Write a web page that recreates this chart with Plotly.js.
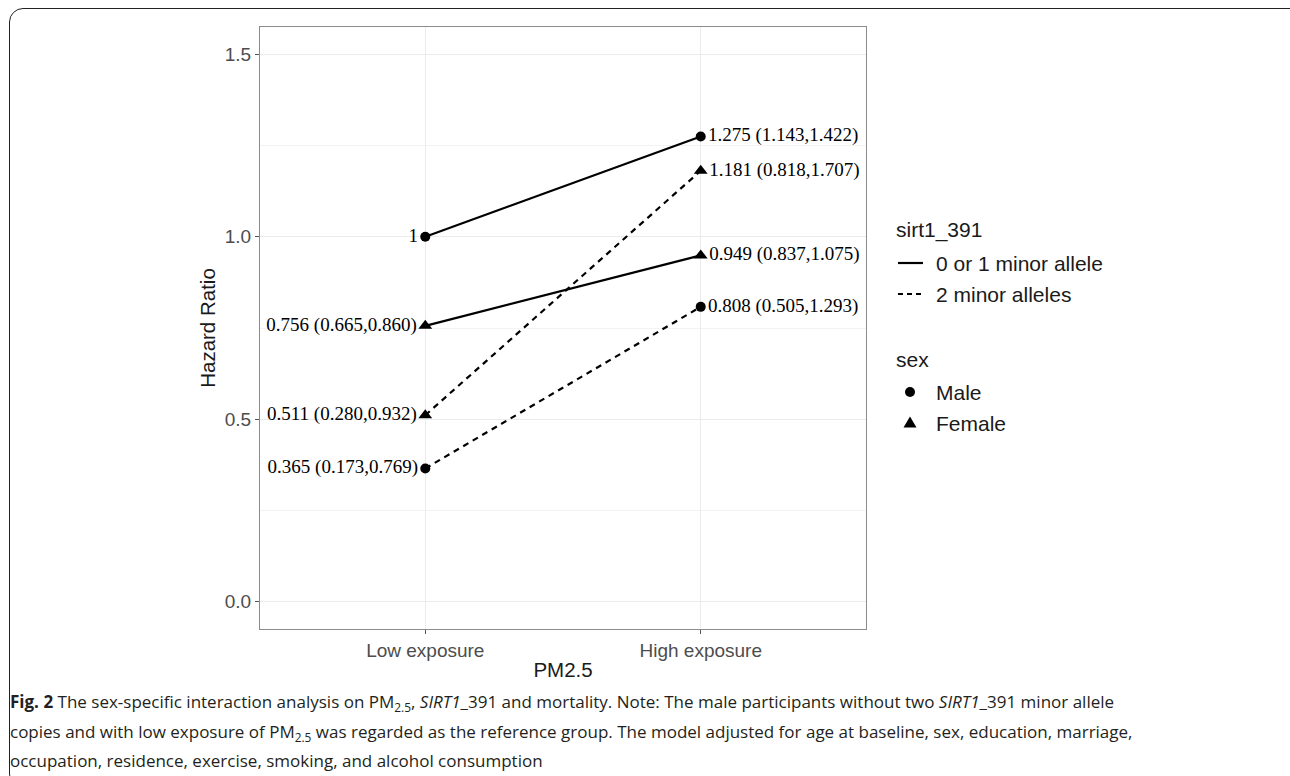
<!DOCTYPE html>
<html><head><meta charset="utf-8">
<script src="https://cdn.plot.ly/plotly-3.0.1.min.js"></script>
<style>
html,body{margin:0;padding:0;background:#fff;overflow:hidden;width:1290px;height:776px}
#frame{position:absolute;left:9px;top:8px;width:1300px;height:780px;border:1.8px solid #222;border-radius:14px;pointer-events:none;box-sizing:border-box}
</style></head><body>
<div id="chart" style="width:1290px;height:776px"></div>
<div id="frame"></div>
<script>
// ---- data ----
const exposure = ['Low exposure', 'High exposure'];
const yTicks = [0, 0.5, 1.0, 1.5];
const seriesNames = ['0 or 1 minor allele, Male', '0 or 1 minor allele, Female', '2 minor alleles, Male', '2 minor alleles, Female'];
const hrMale01   = [1, 1.275];
const loMale01   = [null, 1.143];
const hiMale01   = [null, 1.422];
const hrFemale01 = [0.756, 0.949];
const loFemale01 = [0.665, 0.837];
const hiFemale01 = [0.860, 1.075];
const hrMale2    = [0.365, 0.808];
const loMale2    = [0.173, 0.505];
const hiMale2    = [0.769, 1.293];
const hrFemale2  = [0.511, 1.181];
const loFemale2  = [0.280, 0.818];
const hiFemale2  = [0.932, 1.707];
const alleleLegend = ['0 or 1 minor allele', '2 minor alleles'];
const sexLegend = ['Male', 'Female'];

function labels(hr, lo, hi) {
  return hr.map((v, i) => lo[i] == null ? String(v) :
    v.toFixed(3) + ' (' + lo[i].toFixed(3) + ',' + hi[i].toFixed(3) + ')');
}

const DASH = '6px,5px';
const textFont = {family: 'Liberation Serif, Times New Roman, serif', size: 19, color: '#000'};
function tr(name, hr, lo, hi, dash, symbol, size) {
  return {
    name: name, x: exposure, y: hr, type: 'scatter', mode: 'lines+markers+text',
    text: labels(hr, lo, hi), textposition: ['middle left', 'middle right'],
    textfont: textFont, cliponaxis: false, showlegend: false, hoverinfo: 'x+y+name',
    line: {color: '#000', width: 2.2, dash: dash},
    marker: {symbol: symbol, size: size, color: '#000'}
  };
}
const traces = [
  tr(seriesNames[0], hrMale01, loMale01, hiMale01, 'solid', 'circle', 10),
  tr(seriesNames[1], hrFemale01, loFemale01, hiFemale01, 'solid', 'triangle-up', 12),
  tr(seriesNames[2], hrMale2, loMale2, hiMale2, DASH, 'circle', 10),
  tr(seriesNames[3], hrFemale2, loFemale2, hiFemale2, DASH, 'triangle-up', 12)
];

// pixel -> paper helpers for the legend and caption
const L = 260, T = 27, W = 606, H = 602;
const px = x => (x - L) / W;
const py = y => (T + H - y) / H;

const legFont = {family: 'Liberation Sans, Arial, sans-serif', size: 21, color: '#1a1a1a'};
const capFont = {family: 'Open Sans, Noto Sans, sans-serif', size: 17, color: '#231f20'};
function txt(t, x, y, font, anchor) {
  return {text: t, x: px(x), y: py(y), xref: 'paper', yref: 'paper', showarrow: false,
          xanchor: anchor || 'left', yanchor: 'middle', font: font, align: 'left', borderpad: 0};
}
const annotations = [
  txt('sirt1_391', 895, 230, legFont),
  txt(alleleLegend[0], 935, 263, legFont),
  txt(alleleLegend[1], 935, 294, legFont),
  txt('sex', 895, 359, legFont),
  txt(sexLegend[0], 935, 392, legFont),
  txt(sexLegend[1], 935, 423, legFont),
  txt('<b>Fig. 2</b> The sex-specific interaction analysis on PM<sub>2.5</sub>, <i>SIRT1</i>_391 and mortality. Note: The male participants without two <i>SIRT1</i>_391 minor allele', 9, 702, capFont),
  txt('copies and with low exposure of PM<sub>2.5</sub> was regarded as the reference group. The model adjusted for age at baseline, sex, education, marriage,', 9, 732, capFont),
  txt('occupation, residence, exercise, smoking, and alcohol consumption', 9, 761, capFont)
];
const shapes = [
  {type: 'line', xref: 'paper', yref: 'paper', x0: px(898), x1: px(923), y0: py(263), y1: py(263), line: {color: '#000', width: 2.2}},
  {type: 'line', xref: 'paper', yref: 'paper', x0: px(898), x1: px(923), y0: py(294), y1: py(294), line: {color: '#000', width: 2.2, dash: '5px,4px'}},
  {type: 'circle', xref: 'paper', yref: 'paper', x0: px(905), x1: px(915), y0: py(387), y1: py(397), fillcolor: '#000', line: {width: 0}},
  {type: 'path', xref: 'paper', yref: 'paper',
   path: `M${px(910)},${py(416.5)} L${px(916.5)},${py(427.5)} L${px(903.5)},${py(427.5)} Z`, fillcolor: '#000', line: {width: 0}}
];

const tickFont = {family: 'Liberation Sans, Arial, sans-serif', size: 19, color: '#4d4d4d'};
const titleFont = {family: 'Liberation Sans, Arial, sans-serif', size: 20.5, color: '#1a1a1a'};
const layout = {
  width: 1290, height: 776,
  margin: {l: L, r: 1290 - L - W, t: T, b: 776 - T - H, pad: 0},
  paper_bgcolor: '#fff', plot_bgcolor: '#fff',
  showlegend: false,
  xaxis: {
    type: 'category', categoryorder: 'array', categoryarray: exposure, range: [-0.6, 1.6],
    showline: true, mirror: true, linecolor: '#8c8c8c', linewidth: 1,
    ticks: 'outside', ticklen: 4, tickcolor: '#555', tickwidth: 1,
    tickfont: tickFont, showgrid: true, gridcolor: '#ebebeb', gridwidth: 1, zeroline: false,
    title: {text: 'PM2.5', font: titleFont, standoff: 2}, automargin: false
  },
  yaxis: {
    range: [-0.075, 1.575], tickvals: yTicks, tickformat: '.1f',
    showline: true, mirror: true, linecolor: '#8c8c8c', linewidth: 1,
    ticks: 'outside', ticklen: 4, tickcolor: '#555', tickwidth: 1,
    tickfont: tickFont, showgrid: true, gridcolor: '#ebebeb', gridwidth: 1, zeroline: false,
    minor: {tickvals: [0.25, 0.75, 1.25], showgrid: true, gridcolor: '#f3f3f3', gridwidth: 1, ticks: ''},
    title: {text: 'Hazard Ratio', font: titleFont, standoff: 3}, automargin: false
  },
  annotations: annotations,
  shapes: shapes
};
Plotly.newPlot('chart', traces, layout, {displayModeBar: false, staticPlot: true});
</script>
</body></html>
